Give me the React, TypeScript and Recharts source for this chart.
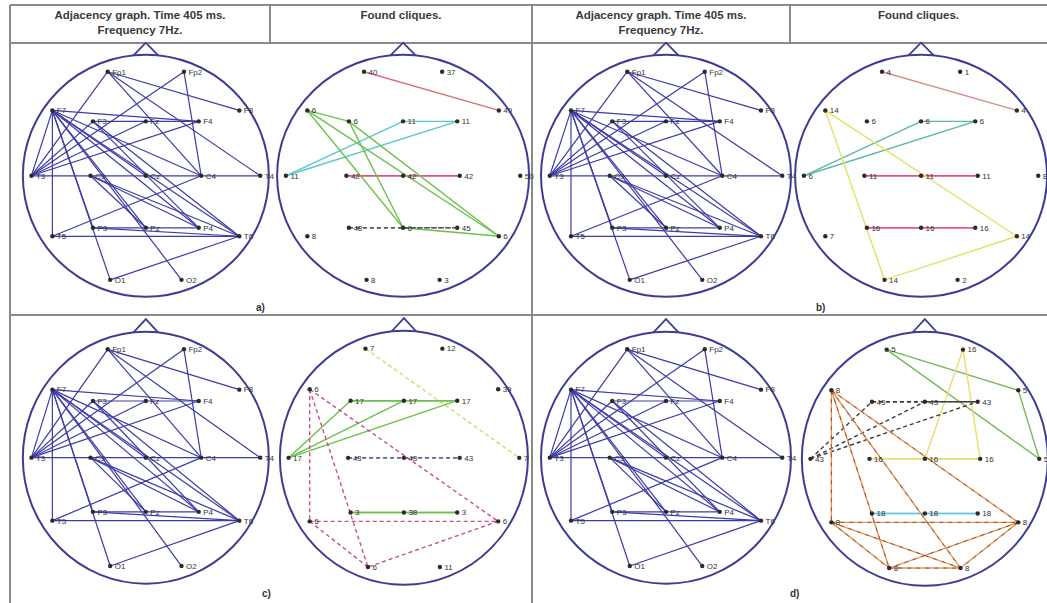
import React from "react";
import { ScatterChart, Scatter, XAxis, YAxis, ReferenceLine, ReferenceArea, LabelList } from "recharts";

// 10-20 electrode layout, head-normalised coordinates (circle radius = 1)
const electrodes = ["Fp1", "Fp2", "F7", "F3", "Fz", "F4", "F8", "T3", "C3", "Cz", "C4", "T4", "T5", "P3", "Pz", "P4", "T6", "O1", "O2"];
const electrodeX = [-0.31, 0.31, -0.76, -0.43, 0, 0.43, 0.76, -0.93, -0.45, 0, 0.45, 0.93, -0.76, -0.43, 0, 0.43, 0.76, -0.29, 0.29];
const electrodeY = [0.86, 0.86, 0.54, 0.45, 0.45, 0.45, 0.54, 0, 0, 0, 0, 0, -0.5, -0.43, -0.43, -0.43, -0.5, -0.86, -0.86];

// adjacency graph, time 405 ms, 7 Hz (same in all four panels)
const adjacencyEdges: [string, string][] = [
  ["Fp1", "F8"], ["Fp1", "T4"], ["Fp1", "T3"], ["Fp1", "C4"],
  ["Fp2", "C4"], ["Fp2", "T3"],
  ["F7", "T3"], ["F7", "T5"], ["F7", "F4"], ["F7", "Cz"], ["F7", "C4"], ["F7", "P3"],
  ["F7", "Pz"], ["F7", "P4"], ["F7", "T6"], ["F7", "O1"], ["F7", "O2"],
  ["F3", "F4"], ["F3", "T6"], ["F3", "P4"],
  ["T3", "F3"], ["T3", "Fz"], ["T3", "F4"], ["T3", "T4"],
  ["C3", "P4"], ["C3", "T6"], ["C3", "Pz"],
  ["T5", "C4"], ["T5", "T6"],
  ["P3", "P4"], ["P3", "T6"],
  ["O1", "T6"],
];

// clique numbers shown next to each electrode
const cliqueLabelsA = ["40", "37", "6", "6", "11", "11", "49", "11", "42", "42", "42", "50", "8", "48", "6", "45", "6", "8", "3"];
const cliqueLabelsB = ["4", "1", "14", "6", "6", "6", "4", "6", "11", "11", "11", "8", "7", "16", "16", "16", "14", "14", "2"];
const cliqueLabelsC = ["7", "12", "6", "17", "17", "17", "39", "17", "43", "43", "43", "7", "6", "3", "38", "3", "6", "6", "11"];
const cliqueLabelsD = ["5", "16", "8", "43", "43", "43", "5", "43", "16", "16", "16", "5", "8", "18", "18", "18", "8", "8", "8"];

type Clique = { members: string[]; color: string; dashed?: boolean; dark?: string };

const cliquesA: Clique[] = [
  { members: ["Fp1", "F8"], color: "#d9707a" },
  { members: ["T3", "Fz", "F4"], color: "#5cc8c8" },
  { members: ["C3", "Cz", "C4"], color: "#e0508c" },
  { members: ["F7", "F3", "Pz", "T6"], color: "#6cc24a" },
  { members: ["P3", "Pz", "P4"], color: "#555566", dashed: true },
];
const cliquesB: Clique[] = [
  { members: ["Fp1", "F8"], color: "#d4908a" },
  { members: ["T3", "Fz", "F4"], color: "#5cb8a8" },
  { members: ["C3", "Cz", "C4"], color: "#e6508a" },
  { members: ["P3", "Pz", "P4"], color: "#e05a88" },
  { members: ["F7", "T6", "O1"], color: "#e2e266" },
];
const cliquesC: Clique[] = [
  { members: ["Fp1", "T4"], color: "#d6d670", dashed: true },
  { members: ["T3", "F3", "Fz", "F4"], color: "#6cc04c" },
  { members: ["C3", "Cz", "C4"], color: "#5a5aa0", dashed: true },
  { members: ["P3", "Pz", "P4"], color: "#6cc04c" },
  { members: ["F7", "T5", "T6", "O1"], color: "#c8508a", dashed: true },
];
const cliquesD: Clique[] = [
  { members: ["Fp1", "F8", "T4"], color: "#78b85a" },
  { members: ["Fp2", "Cz", "C4"], color: "#e6de6e" },
  { members: ["C3", "Cz", "C4"], color: "#e6de6e" },
  { members: ["T3", "F3", "Fz", "F4"], color: "#3a3a3a", dashed: true },
  { members: ["P3", "Pz", "P4"], color: "#6cc8dc" },
  { members: ["F7", "T5", "T6", "O1", "O2"], color: "#e8955a", dashed: true, dark: "#8a4a2a" },
];

const HEAD = "#3d3d94";

const pos = (name: string) => {
  const i = electrodes.indexOf(name);
  return { x: electrodeX[i], y: electrodeY[i] };
};

const HeadShape = (props: any) => {
  const { x, y, width, height } = props;
  const cx = x + width / 2;
  const cy = y + height / 2;
  const rx = width / 2;
  const ry = height / 2;
  const nb = rx * 0.1;
  const nh = ry * 0.1;
  return (
    <g>
      <ellipse cx={cx} cy={cy} rx={rx} ry={ry} fill="none" stroke={HEAD} strokeWidth={2} />
      <polyline
        points={`${cx - nb},${cy - ry * 0.995} ${cx},${cy - ry - nh} ${cx + nb},${cy - ry * 0.995}`}
        fill="none"
        stroke={HEAD}
        strokeWidth={1.8}
      />
    </g>
  );
};

const Dot = (props: any) => <circle cx={props.cx} cy={props.cy} r={2.2} fill="#2b2b2b" />;

type Seg = { a: string; b: string; color: string; dashed?: boolean; dark?: string; width: number };

const adjacencySegs = (): Seg[] =>
  adjacencyEdges.map(([a, b]) => ({ a, b, color: "#3c3ca6", width: 1.2 }));

const cliqueSegs = (cliques: Clique[]): Seg[] => {
  const out: Seg[] = [];
  cliques.forEach((c) => {
    for (let i = 0; i < c.members.length; i++)
      for (let j = i + 1; j < c.members.length; j++)
        out.push({ a: c.members[i], b: c.members[j], color: c.color, dashed: c.dashed, dark: c.dark, width: 1.4 });
  });
  return out;
};

type PanelProps = { cx: number; cy: number; rx: number; ry: number; labels: string[]; segs: Seg[] };

const HeadPanel = ({ cx, cy, rx, ry, labels, segs }: PanelProps) => {
  const W = 2.16 * rx;
  const H = 2.28 * ry;
  const points = electrodes.map((n, i) => ({ x: electrodeX[i], y: electrodeY[i], label: labels[i] }));
  return (
    <div style={{ position: "absolute", left: cx - 1.08 * rx, top: cy - 1.18 * ry }}>
      <ScatterChart width={W} height={H} margin={{ top: 0, right: 0, bottom: 0, left: 0 }}>
        <XAxis type="number" dataKey="x" domain={[-1.08, 1.08]} hide allowDataOverflow />
        <YAxis type="number" dataKey="y" domain={[-1.1, 1.18]} hide allowDataOverflow />
        <ReferenceArea x1={-1} x2={1} y1={-1} y2={1} shape={HeadShape} ifOverflow="visible" />
        {segs.map((s, i) => (
          <ReferenceLine
            key={`s${i}`}
            segment={[pos(s.a), pos(s.b)]}
            stroke={s.color}
            strokeWidth={s.width}
            strokeDasharray={s.dashed && !s.dark ? "4 3" : undefined}
            ifOverflow="visible"
          />
        ))}
        {segs.filter((s) => s.dark).map((s, i) => (
          <ReferenceLine
            key={`d${i}`}
            segment={[pos(s.a), pos(s.b)]}
            stroke={s.dark}
            strokeWidth={0.9}
            strokeDasharray="4 5"
            ifOverflow="visible"
          />
        ))}
        <Scatter data={points} isAnimationActive={false} shape={Dot}>
          <LabelList dataKey="label" position="right" offset={0} style={{ fontSize: 8, fill: "#333" }} />
        </Scatter>
      </ScatterChart>
    </div>
  );
};

const panels = [
  { cx: 146, cy: 176, rx: 123, ry: 121, labels: electrodes, segs: adjacencySegs() },
  { cx: 403, cy: 176, rx: 126, ry: 121, labels: cliqueLabelsA, segs: cliqueSegs(cliquesA) },
  { cx: 666, cy: 176, rx: 125, ry: 121, labels: electrodes, segs: adjacencySegs() },
  { cx: 921, cy: 176, rx: 126, ry: 121, labels: cliqueLabelsB, segs: cliqueSegs(cliquesB) },
  { cx: 146, cy: 458, rx: 123, ry: 126, labels: electrodes, segs: adjacencySegs() },
  { cx: 404, cy: 458, rx: 124, ry: 127, labels: cliqueLabelsC, segs: cliqueSegs(cliquesC) },
  { cx: 666, cy: 458, rx: 125, ry: 126, labels: electrodes, segs: adjacencySegs() },
  { cx: 925, cy: 459, rx: 123, ry: 127, labels: cliqueLabelsD, segs: cliqueSegs(cliquesD) },
];

const headerTitle = ["Adjacency graph. Time 405 ms.", "Frequency 7Hz."];
const headerCliques = "Found cliques.";
const panelLetters = ["a)", "b)", "c)", "d)"];

const GRID = "#8a8a8a";

const Header = ({ left, width, lines }: { left: number; width: number; lines: string[] }) => (
  <div
    style={{
      position: "absolute", left, top: 8, width, textAlign: "center",
      fontSize: 11.5, fontWeight: "bold", lineHeight: "15px", color: "#3a3a3a",
    }}
  >
    {lines.map((l) => <div key={l}>{l}</div>)}
  </div>
);

export default function App() {
  return (
    <div
      style={{
        position: "absolute", left: 0, top: 0, width: 1047, height: 603, overflow: "hidden",
        background: "#fff", fontFamily: "'Liberation Sans', Arial, sans-serif",
      }}
    >
      <svg width={1047} height={603} style={{ position: "absolute", left: 0, top: 0 }}>
        <g stroke={GRID} strokeWidth={2}>
          <line x1={10} y1={5} x2={1047} y2={5} />
          <line x1={10} y1={43} x2={1047} y2={43} />
          <line x1={10} y1={315} x2={1047} y2={315} />
          <line x1={10} y1={5} x2={10} y2={603} />
          <line x1={532} y1={5} x2={532} y2={603} />
          <line x1={270} y1={5} x2={270} y2={43} />
          <line x1={790} y1={5} x2={790} y2={43} />
        </g>
      </svg>
      <Header left={10} width={260} lines={headerTitle} />
      <Header left={270} width={262} lines={[headerCliques]} />
      <Header left={532} width={258} lines={headerTitle} />
      <Header left={790} width={257} lines={[headerCliques]} />
      {panels.map((p, i) => (
        <HeadPanel key={i} {...p} />
      ))}
      {[[262, 302], [822, 302], [268, 588], [796, 588]].map(([x, y], i) => (
        <div key={i} style={{ position: "absolute", left: x - 6, top: y, fontSize: 10, fontWeight: "bold", color: "#333" }}>
          {panelLetters[i]}
        </div>
      ))}
    </div>
  );
}
